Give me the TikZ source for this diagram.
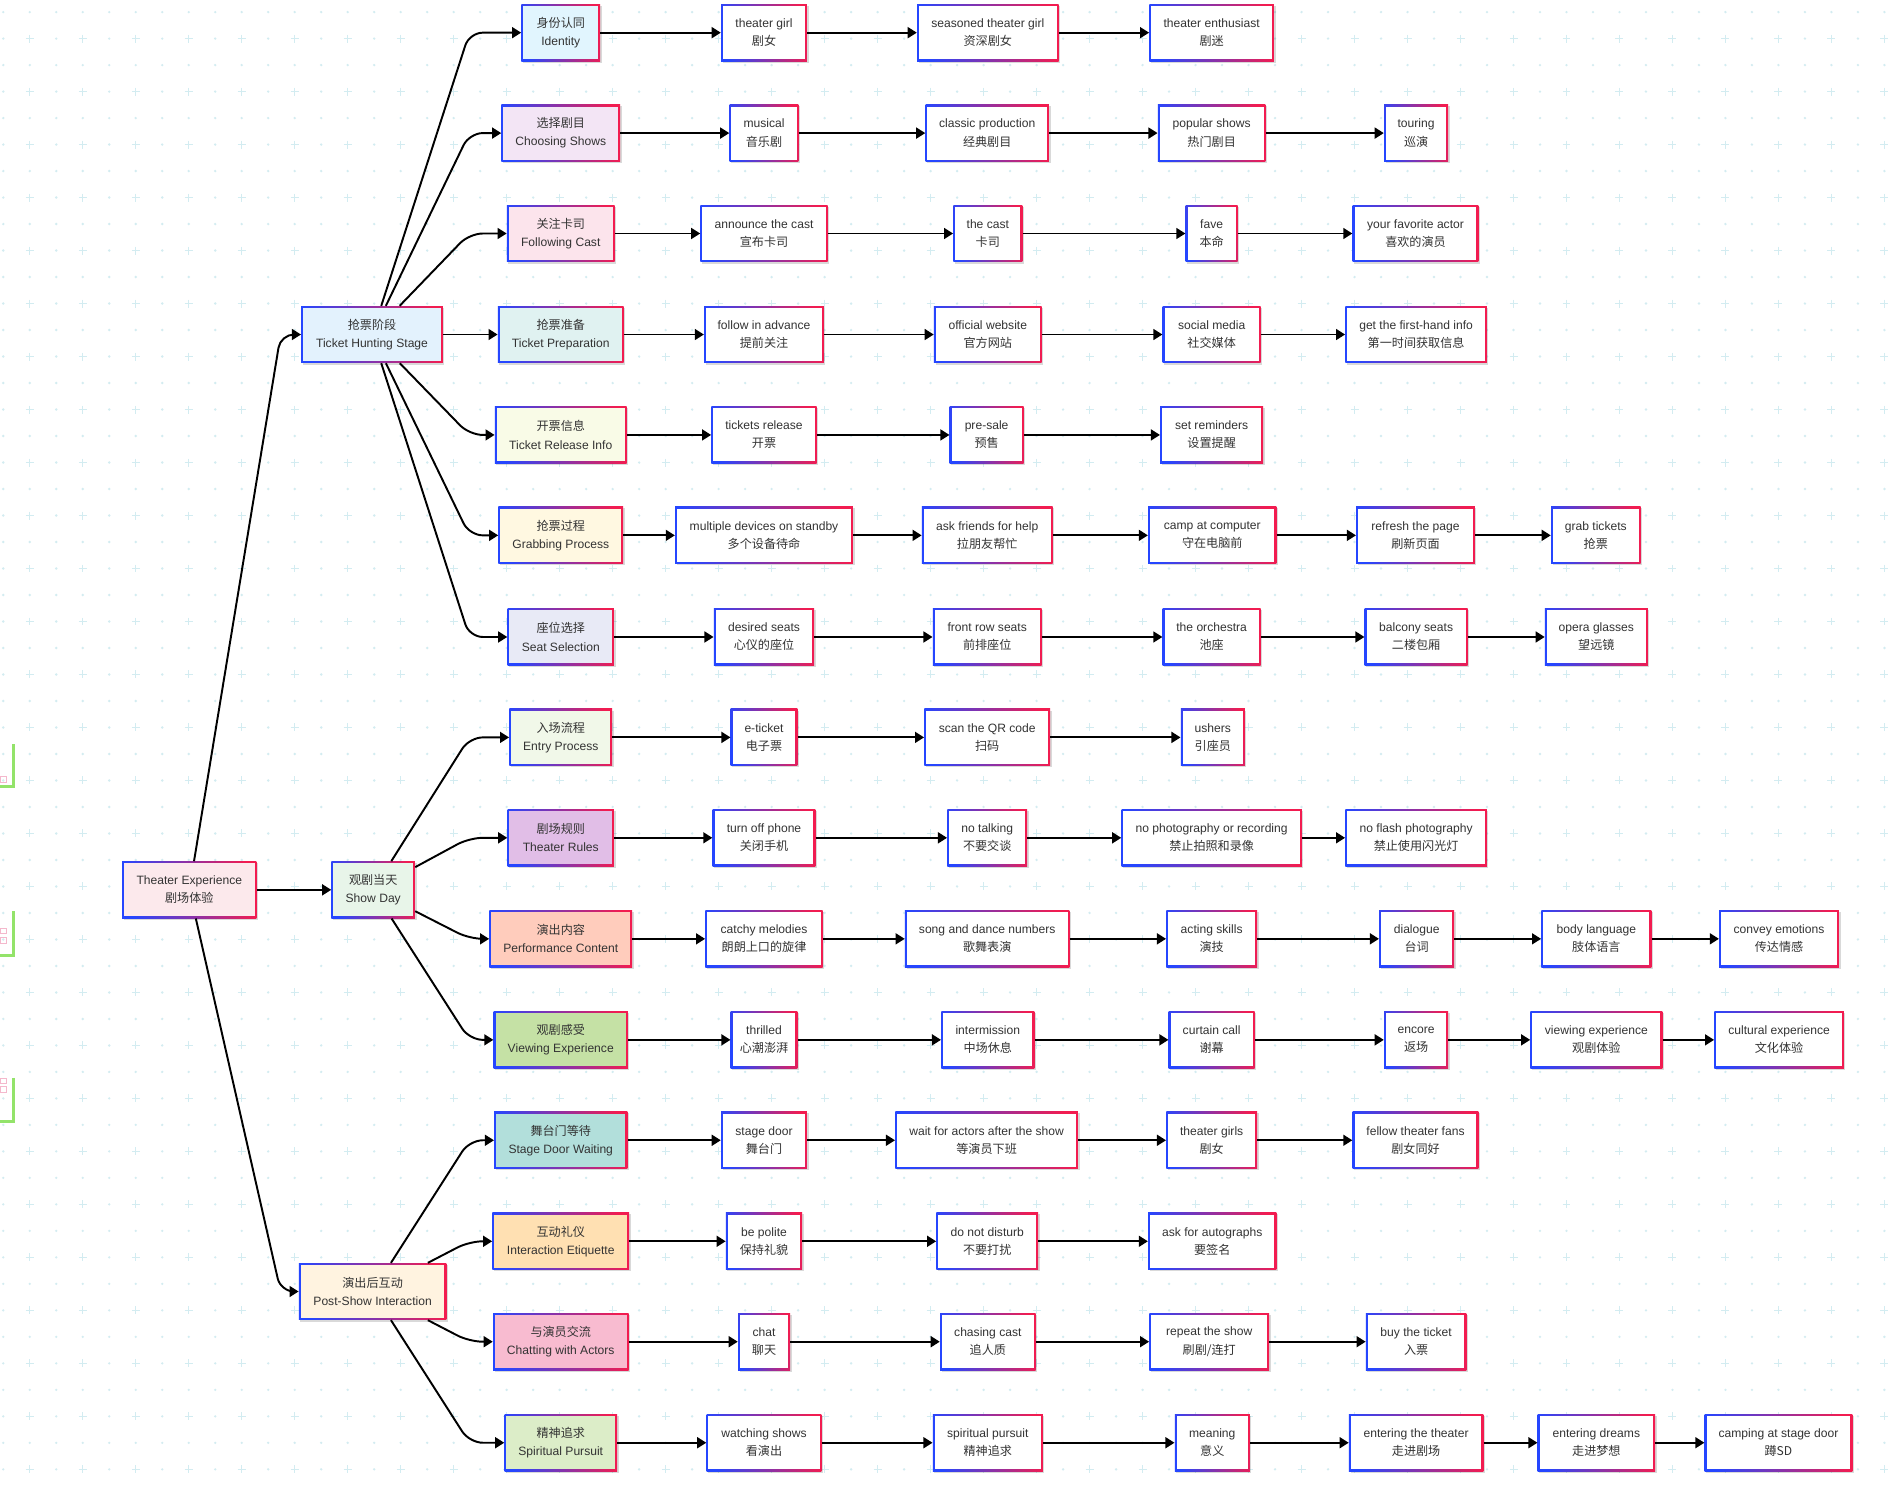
\documentclass[tikz,border=0pt]{standalone}
\usepackage{fontspec}
\setmainfont{Liberation Sans}
\newfontfamily\cjk{Noto Sans CJK SC}
\usetikzlibrary{arrows.meta,shadows}
\definecolor{txt}{HTML}{333333}
\definecolor{bdblue}{HTML}{2546FF}
\definecolor{bdred}{HTML}{F21C50}
\definecolor{gridc}{HTML}{D3ECF1}
\definecolor{markgreen}{HTML}{93E36A}
\definecolor{markpink}{HTML}{F4B8CC}
\definecolor{cRoot}{HTML}{FCE9EC}
\definecolor{cTHS}{HTML}{E3F2FD}
\definecolor{cSD}{HTML}{E8F5E9}
\definecolor{cPSI}{HTML}{FFF3E0}
\definecolor{cId}{HTML}{E1F5FE}
\definecolor{cCS}{HTML}{F3E5F5}
\definecolor{cFC}{HTML}{FCE4EC}
\definecolor{cTP}{HTML}{E0F2F1}
\definecolor{cTRI}{HTML}{F9FBE7}
\definecolor{cGP}{HTML}{FFF8E1}
\definecolor{cSS}{HTML}{E8EAF6}
\definecolor{cEP}{HTML}{F1F8E9}
\definecolor{cTR}{HTML}{E1BEE7}
\definecolor{cPC}{HTML}{FFCCBC}
\definecolor{cVE}{HTML}{C5E1A5}
\definecolor{cSDW}{HTML}{B2DFDB}
\definecolor{cIE}{HTML}{FFE0B2}
\definecolor{cCWA}{HTML}{F8BBD0}
\definecolor{cSPU}{HTML}{DCEDC8}
\tikzset{
  box/.style={rectangle, minimum height=47pt, inner sep=0pt, align=center,
    text=txt, font=\fontsize{10}{15}\selectfont,
    drop shadow={shadow xshift=1.3pt, shadow yshift=-1.3pt, opacity=0.15, fill=black},
    path picture={
      \shade[left color=bdblue, right color=bdred, shading angle=100]
        (path picture bounding box.south west) rectangle (path picture bounding box.north east);
      \fill[#1] ([shift={(1.6pt,1.6pt)}]path picture bounding box.south west)
        rectangle ([shift={(-1.6pt,-1.6pt)}]path picture bounding box.north east);
    }},
  edge/.style={draw=black, line width=1.6pt, -{Triangle[length=7.5pt,width=9pt]}},
  curvedge/.style={edge, rounded corners=11pt},
}
\begin{document}
\begin{tikzpicture}[x=1pt,y=-1pt]
\useasboundingbox (0,0) rectangle (1568,1229);
\fill[white] (0,0) rectangle (1568,1229);
% background grid
\begin{scope}
\clip (0,0) rectangle (1568,1229);
\fill[gridc] \foreach \k in {0,2,...,56} {\foreach \j in {0,...,72} {(2.7+\j*21.9,10+\k*21.9) circle (1.1)}};
\fill[gridc] \foreach \k in {1,3,...,55} {\foreach \j in {0,2,...,72} {(2.7+\j*21.9,10+\k*21.9) circle (1.1)}};
\draw[gridc, line width=1.1pt] \foreach \k in {1,3,...,55} {\foreach \j in {1,3,...,71} {(2.7+\j*21.9-3.3,10+\k*21.9) -- ++(6.6,0) (2.7+\j*21.9,10+\k*21.9-3.3) -- ++(0,6.6)}};
\end{scope}
% left edge marks
\foreach \ya/\yb in {615/650, 753/790, 891/927} {
  \draw[markgreen, line width=2.8pt] (11.3,\ya) -- (11.3,\yb) -- (0,\yb);
}
\draw[markpink, line width=0.5pt] (0,642) rectangle (5,646.5) (0,767) rectangle (5,771.5) (0,775) rectangle (5,779.5) (0,891) rectangle (5,895) (0,898) rectangle (5,902.5);

% guide columns for bends
\coordinate (k1) at (232,0);
\coordinate (k2) at (388,0);

% root and level 1
\node[box=cRoot, minimum width=111pt] (root) at (156.5,735.5) {Theater Experience\\\cjk 剧场体验};
\node[box=cTHS, minimum width=117pt] (ths) at (307.5,276.5) {{\cjk 抢票阶段}\\Ticket Hunting Stage};
\node[box=cSD, minimum width=69pt] (sday) at (308.5,735.5) {{\cjk 观剧当天}\\Show Day};
\node[box=cPSI, minimum width=122pt] (psi) at (308,1067.5) {{\cjk 演出后互动}\\Post-Show Interaction};

% level 2
\node[box=cId, minimum width=65pt] (id) at (463.5,27) {{\cjk 身份认同}\\Identity};
\node[box=cCS, minimum width=98pt] (cs) at (463.5,110) {{\cjk 选择剧目}\\Choosing Shows};
\node[box=cFC, minimum width=89pt] (fc) at (463.5,193) {{\cjk 关注卡司}\\Following Cast};
\node[box=cTP, minimum width=104pt] (tp) at (463.5,276.5) {{\cjk 抢票准备}\\Ticket Preparation};
\node[box=cTRI, minimum width=109pt] (tri) at (463.5,359.5) {{\cjk 开票信息}\\Ticket Release Info};
\node[box=cGP, minimum width=103pt] (gp) at (463.5,442.5) {{\cjk 抢票过程}\\Grabbing Process};
\node[box=cSS, minimum width=88pt] (ss) at (463.5,526.5) {{\cjk 座位选择}\\Seat Selection};
\node[box=cEP, minimum width=85pt] (ep) at (463.5,609.5) {{\cjk 入场流程}\\Entry Process};
\node[box=cTR, minimum width=88pt] (tru) at (463.5,692.5) {{\cjk 剧场规则}\\Theater Rules};
\node[box=cPC, minimum width=118pt] (pc) at (463.5,776) {{\cjk 演出内容}\\Performance Content};
\node[box=cVE, minimum width=111pt] (vx) at (463.5,859.5) {{\cjk 观剧感受}\\Viewing Experience};
\node[box=cSDW, minimum width=110pt] (sdw) at (463.5,942.5) {{\cjk 舞台门等待}\\Stage Door Waiting};
\node[box=cIE, minimum width=113pt] (ie) at (463.5,1026) {{\cjk 互动礼仪}\\Interaction Etiquette};
\node[box=cCWA, minimum width=112pt] (cwa) at (463.5,1109) {{\cjk 与演员交流}\\Chatting with Actors};
\node[box=cSPU, minimum width=93pt] (spu) at (463.5,1192.5) {{\cjk 精神追求}\\Spiritual Pursuit};

% row 1
\node[box=white, minimum width=71pt] (r1a) at (631.5,27) {theater girl\\\cjk 剧女};
\node[box=white, minimum width=117pt] (r1b) at (816.5,27) {seasoned theater girl\\\cjk 资深剧女};
\node[box=white, minimum width=103pt] (r1c) at (1001.5,27) {theater enthusiast\\\cjk 剧迷};
% row 2
\node[box=white, minimum width=57pt] (r2a) at (631.5,110) {musical\\\cjk 音乐剧};
\node[box=white, minimum width=102pt] (r2b) at (816,110) {classic production\\\cjk 经典剧目};
\node[box=white, minimum width=89pt] (r2c) at (1001.5,110) {popular shows\\\cjk 热门剧目};
\node[box=white, minimum width=53pt] (r2d) at (1170.5,110) {touring\\\cjk 巡演};
% row 3
\node[box=white, minimum width=105pt] (r3a) at (631.5,193) {announce the cast\\\cjk 宣布卡司};
\node[box=white, minimum width=57pt] (r3b) at (816.5,193) {the cast\\\cjk 卡司};
\node[box=white, minimum width=43pt] (r3c) at (1001.5,193) {fave\\\cjk 本命};
\node[box=white, minimum width=104pt] (r3d) at (1170,193) {your favorite actor\\\cjk 喜欢的演员};
% row 4
\node[box=white, minimum width=99pt] (r4a) at (631.5,276.5) {follow in advance\\\cjk 提前关注};
\node[box=white, minimum width=89pt] (r4b) at (816.5,276.5) {official website\\\cjk 官方网站};
\node[box=white, minimum width=81pt] (r4c) at (1001.5,276.5) {social media\\\cjk 社交媒体};
\node[box=white, minimum width=117pt] (r4d) at (1170.5,276.5) {get the first-hand info\\\cjk 第一时间获取信息};
% row 5
\node[box=white, minimum width=87pt] (r5a) at (631.5,359.5) {tickets release\\\cjk 开票};
\node[box=white, minimum width=61pt] (r5b) at (815.5,359.5) {pre-sale\\\cjk 预售};
\node[box=white, minimum width=85pt] (r5c) at (1001.5,359.5) {set reminders\\\cjk 设置提醒};
% row 6
\node[box=white, minimum width=147pt] (r6a) at (631.5,442.5) {multiple devices on standby\\\cjk 多个设备待命};
\node[box=white, minimum width=108pt] (r6b) at (816,442.5) {ask friends for help\\\cjk 拉朋友帮忙};
\node[box=white, minimum width=106pt] (r6c) at (1002,442.5) {camp at computer\\\cjk 守在电脑前};
\node[box=white, minimum width=98pt] (r6d) at (1170,442.5) {refresh the page\\\cjk 刷新页面};
\node[box=white, minimum width=74pt] (r6e) at (1319,442.5) {grab tickets\\\cjk 抢票};
% row 7
\node[box=white, minimum width=83pt] (r7a) at (631.5,526.5) {desired seats\\\cjk 心仪的座位};
\node[box=white, minimum width=90pt] (r7b) at (816,526.5) {front row seats\\\cjk 前排座位};
\node[box=white, minimum width=81pt] (r7c) at (1001.5,526.5) {the orchestra\\\cjk 池座};
\node[box=white, minimum width=85pt] (r7d) at (1170.5,526.5) {balcony seats\\\cjk 二楼包厢};
\node[box=white, minimum width=85pt] (r7e) at (1319.5,526.5) {opera glasses\\\cjk 望远镜};
% row 8
\node[box=white, minimum width=55pt] (r8a) at (631.5,609.5) {e-ticket\\\cjk 电子票};
\node[box=white, minimum width=104pt] (r8b) at (816,609.5) {scan the QR code\\\cjk 扫码};
\node[box=white, minimum width=53pt] (r8c) at (1002.5,609.5) {ushers\\\cjk 引座员};
% row 9
\node[box=white, minimum width=85pt] (r9a) at (631.5,692.5) {turn off phone\\\cjk 关闭手机};
\node[box=white, minimum width=66pt] (r9b) at (816,692.5) {no talking\\\cjk 不要交谈};
\node[box=white, minimum width=149pt] (r9c) at (1001.5,692.5) {no photography or recording\\\cjk 禁止拍照和录像};
\node[box=white, minimum width=117pt] (r9d) at (1170.5,692.5) {no flash photography\\\cjk 禁止使用闪光灯};
% row 10
\node[box=white, minimum width=97pt] (r10a) at (631.5,776) {catchy melodies\\\cjk 朗朗上口的旋律};
\node[box=white, minimum width=136pt] (r10b) at (816,776) {song and dance numbers\\\cjk 歌舞表演};
\node[box=white, minimum width=75pt] (r10c) at (1001.5,776) {acting skills\\\cjk 演技};
\node[box=white, minimum width=62pt] (r10d) at (1171,776) {dialogue\\\cjk 台词};
\node[box=white, minimum width=91pt] (r10e) at (1319.5,776) {body language\\\cjk 肢体语言};
\node[box=white, minimum width=99pt] (r10f) at (1470.5,776) {convey emotions\\\cjk 传达情感};
% row 11
\node[box=white, minimum width=55pt] (r11a) at (631.5,859.5) {thrilled\\\cjk 心潮澎湃};
\node[box=white, minimum width=77pt] (r11b) at (816.5,859.5) {intermission\\\cjk 中场休息};
\node[box=white, minimum width=71pt] (r11c) at (1001.5,859.5) {curtain call\\\cjk 谢幕};
\node[box=white, minimum width=53pt] (r11d) at (1170.5,859.5) {encore\\\cjk 返场};
\node[box=white, minimum width=109pt] (r11e) at (1319.5,859.5) {viewing experience\\\cjk 观剧体验};
\node[box=white, minimum width=107pt] (r11f) at (1470.5,859.5) {cultural experience\\\cjk 文化体验};
% row 12
\node[box=white, minimum width=71pt] (r12a) at (631.5,942.5) {stage door\\\cjk 舞台门};
\node[box=white, minimum width=151pt] (r12b) at (815.5,942.5) {wait for actors after the show\\\cjk 等演员下班};
\node[box=white, minimum width=75pt] (r12c) at (1001.5,942.5) {theater girls\\\cjk 剧女};
\node[box=white, minimum width=104pt] (r12d) at (1170,942.5) {fellow theater fans\\\cjk 剧女同好};
% row 13
\node[box=white, minimum width=63pt] (r13a) at (631.5,1026) {be polite\\\cjk 保持礼貌};
\node[box=white, minimum width=84pt] (r13b) at (816,1026) {do not disturb\\\cjk 不要打扰};
\node[box=white, minimum width=106pt] (r13c) at (1002,1026) {ask for autographs\\\cjk 要签名};
% row 14
\node[box=white, minimum width=43pt] (r14a) at (631.5,1109) {chat\\\cjk 聊天};
\node[box=white, minimum width=79pt] (r14b) at (816.5,1109) {chasing cast\\\cjk 追人质};
\node[box=white, minimum width=99pt] (r14c) at (999.5,1109) {repeat the show\\\cjk 刷剧/连打};
\node[box=white, minimum width=83pt] (r14d) at (1170.5,1109) {buy the ticket\\\cjk 入票};
% row 15
\node[box=white, minimum width=95pt] (r15a) at (631.5,1192.5) {watching shows\\\cjk 看演出};
\node[box=white, minimum width=91pt] (r15b) at (816.5,1192.5) {spiritual pursuit\\\cjk 精神追求};
\node[box=white, minimum width=62pt] (r15c) at (1002,1192.5) {meaning\\\cjk 意义};
\node[box=white, minimum width=111pt] (r15d) at (1170.5,1192.5) {entering the theater\\\cjk 走进剧场};
\node[box=white, minimum width=97pt] (r15e) at (1319.5,1192.5) {entering dreams\\\cjk 走进梦想};
\node[box=white, minimum width=122pt] (r15f) at (1470,1192.5) {camping at stage door\\\cjk 蹲SD};

% root edges
\draw[curvedge] (root) -- (k1 |- ths.west) -- (ths);
\draw[edge] (root) -- (sday);
\draw[curvedge] (root) -- (k1 |- psi.west) -- (psi);
% level 1 -> level 2
\foreach \t in {id,cs,fc,tri,gp,ss} {\draw[curvedge] (ths) -- (k2 |- \t.west) -- (\t);}
\draw[edge] (ths) -- (tp);
\foreach \t in {ep,tru,pc,vx} {\draw[curvedge] (sday) -- (k2 |- \t.west) -- (\t);}
\foreach \t in {sdw,ie,cwa,spu} {\draw[curvedge] (psi) -- (k2 |- \t.west) -- (\t);}
% chains
\foreach \a/\b in {id/r1a,r1a/r1b,r1b/r1c,
  cs/r2a,r2a/r2b,r2b/r2c,r2c/r2d,
  fc/r3a,r3a/r3b,r3b/r3c,r3c/r3d,
  tp/r4a,r4a/r4b,r4b/r4c,r4c/r4d,
  tri/r5a,r5a/r5b,r5b/r5c,
  gp/r6a,r6a/r6b,r6b/r6c,r6c/r6d,r6d/r6e,
  ss/r7a,r7a/r7b,r7b/r7c,r7c/r7d,r7d/r7e,
  ep/r8a,r8a/r8b,r8b/r8c,
  tru/r9a,r9a/r9b,r9b/r9c,r9c/r9d,
  pc/r10a,r10a/r10b,r10b/r10c,r10c/r10d,r10d/r10e,r10e/r10f,
  vx/r11a,r11a/r11b,r11b/r11c,r11c/r11d,r11d/r11e,r11e/r11f,
  sdw/r12a,r12a/r12b,r12b/r12c,r12c/r12d,
  ie/r13a,r13a/r13b,r13b/r13c,
  cwa/r14a,r14a/r14b,r14b/r14c,r14c/r14d,
  spu/r15a,r15a/r15b,r15b/r15c,r15c/r15d,r15d/r15e,r15e/r15f}
  {\draw[edge] (\a) -- (\b);}
\end{tikzpicture}
\end{document}
